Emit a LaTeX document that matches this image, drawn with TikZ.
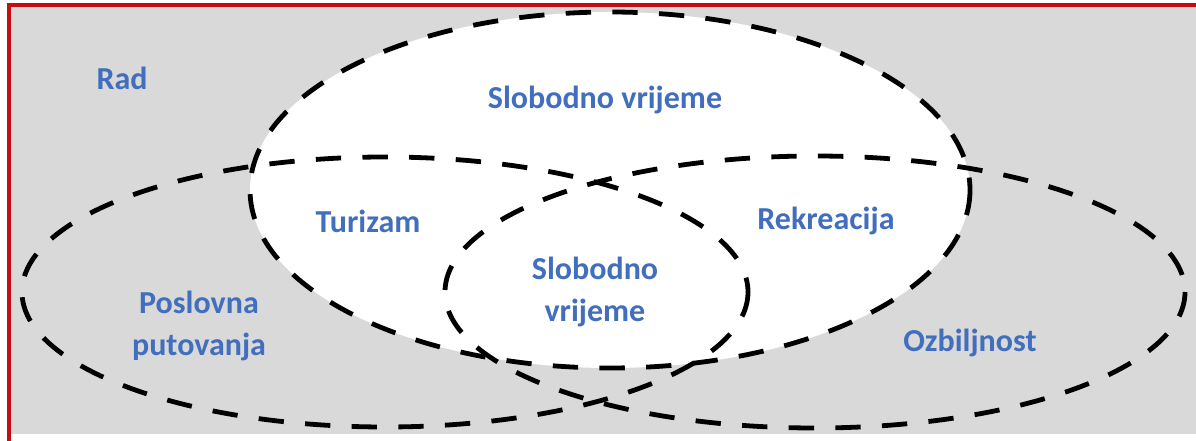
\documentclass[tikz,border=0pt]{standalone}
\usepackage{fontspec}
\setmainfont{Carlito}
\usepackage{tikz}
\usetikzlibrary{shapes}

\definecolor{bgGray}{RGB}{217,217,217}
\definecolor{frameRed}{RGB}{196,14,22}
\definecolor{labelBlue}{RGB}{66,110,190}

\tikzset{
  setline/.style={draw=black, line width=3.6pt, dash pattern=on 19pt off 16pt},
  setlabel/.style={inner sep=0.75pt, color=labelBlue, align=center, font=\fontsize{24}{31}\selectfont\bfseries}
}

\begin{document}
\begin{tikzpicture}[x=0.75pt,y=0.75pt,yscale=-1,xscale=1]
\useasboundingbox (0,0) rectangle (1196,441);

%Shape: Rectangle [id:dp2290431] 
\fill [color=bgGray] (11,7) rectangle (1196,434) ;
%Straight Lines [id:da7731205] 
\draw [color=frameRed, line width=2.4pt]   (9,441) -- (9,5) -- (1196,5) ;

%Shape: Ellipse [id:dp5518302] 
\draw [setline, fill=white] (610,190) ellipse (360 and 178) ;
%Shape: Ellipse [id:dp0641187] 
\draw [setline] (385,292) ellipse (363 and 135) ;
%Shape: Ellipse [id:dp8813460] 
\draw [setline] (815,292) ellipse (370 and 136) ;

% Text Node
\draw (122,78) node [setlabel] (rad) {Rad};
% Text Node
\draw (605,100) node [setlabel] (slobodnoTop) {Slobodno vrijeme};
% Text Node
\draw (368,221) node [setlabel] (turizam) {Turizam};
% Text Node
\draw (826,221) node [setlabel] (rekreacija) {Rekreacija};
% Text Node
\draw (595,292) node [setlabel] (slobodnoMid) {Slobodno\\vrijeme};
% Text Node
\draw (199,326) node [setlabel] (poslovna) {Poslovna\\putovanja};
% Text Node
\draw (970,343) node [setlabel] (ozbiljnost) {Ozbiljnost};

\end{tikzpicture}
\end{document}
